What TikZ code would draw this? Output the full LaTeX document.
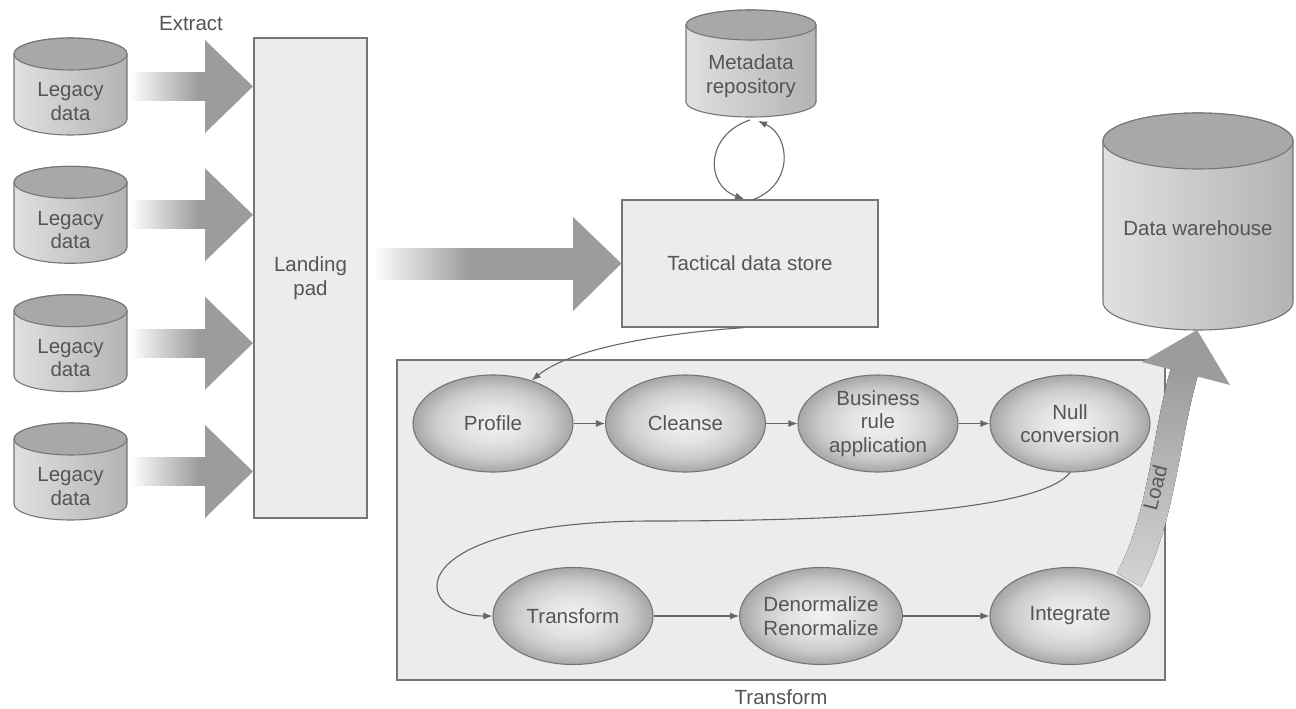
\documentclass[tikz,border=0pt]{standalone}
\usepackage{fontspec}
\setmainfont{Liberation Sans}
\usetikzlibrary{shapes.geometric,arrows.meta}

\definecolor{ink}{HTML}{555555}
\definecolor{edge}{HTML}{767676}
\definecolor{boxfill}{HTML}{ECECEC}
\definecolor{arrowgray}{HTML}{9C9C9C}
\definecolor{arrowlight}{HTML}{D4D4D4}
\definecolor{captop}{HTML}{A8A8A8}
\definecolor{bodyL}{HTML}{E0E0E0}
\definecolor{bodyM}{HTML}{EEEEEE}
\definecolor{bodyR}{HTML}{B3B3B3}
\definecolor{ovalin}{HTML}{F2F2F2}
\definecolor{ovalmid}{HTML}{E2E2E2}
\definecolor{ovalrim}{HTML}{CBCBCB}
\definecolor{ovalout}{HTML}{A6A6A6}
\definecolor{flowline}{HTML}{666666}

% soft oval fill: light core, grey rim (the path's box spans -25bp..25bp)
\pgfdeclareradialshading{ovalshade}{\pgfpoint{0bp}{0bp}}{%
  color(0bp)=(ovalin); color(10bp)=(ovalmid); color(18bp)=(ovalrim);
  color(25bp)=(ovalout); color(50bp)=(ovalout)}
% shaft that fades in from white and turns solid part way along (box spans 25bp..75bp)
\pgfdeclarehorizontalshading{fadebar}{100bp}{%
  color(0bp)=(white); color(25bp)=(white); color(49bp)=(arrowgray); color(100bp)=(arrowgray)}
% shaft that fades in over its whole length
\pgfdeclarehorizontalshading{fadeshort}{100bp}{%
  color(0bp)=(white); color(25bp)=(white); color(70bp)=(arrowgray); color(100bp)=(arrowgray)}

% drum (database) outline: centre x, top y, width, height, cap half-height
\newcommand\drumshape[5]{%
  \path[draw=edge, line width=1.1pt, left color=bodyL, middle color=bodyM, right color=bodyR]
    ({#1-#3/2},{#2+#5}) -- ({#1-#3/2},{#2+#4-#5})
    arc[start angle=180, end angle=360, x radius={#3/2*1pt}, y radius={#5*1pt}]
    -- ({#1+#3/2},{#2+#5})
    arc[start angle=0, end angle=180, x radius={#3/2*1pt}, y radius={#5*1pt}] -- cycle;
  \path[draw=edge, line width=1.1pt, fill=captop]
    (#1,{#2+#5}) ellipse[x radius={#3/2*1pt}, y radius={#5*1pt}];
}

% fat extract arrow into the landing pad, given the y of its tip
\newcommand\extractarrow[1]{%
  \path[shading=fadeshort] (130,{#1-14}) rectangle (206,{#1+14});
  \fill[arrowgray] (205,{#1-46.5}) -- (253,#1) -- (205,{#1+46.5}) -- cycle;
}

\tikzset{
  lbl/.style={text=ink, font=\fontsize{20.5}{23.5}\selectfont, align=center, inner sep=0pt},
  stage/.style={ellipse, draw=edge, line width=1.1pt, shading=ovalshade,
    minimum width=160pt, minimum height=97pt, inner sep=0pt, lbl},
  panel/.style={draw=edge, line width=1.1pt, fill=boxfill, inner sep=0pt, lbl},
  flow/.style={draw=flowline, line width=1.1pt, -{Latex[length=9pt,width=7pt]}},
}

\begin{document}
\begin{tikzpicture}[x=1pt,y=-1pt]
\useasboundingbox (0,0) rectangle (1296,709);
\fill[white] (0,0) rectangle (1296,709);

% legacy sources
\drumshape{70.5}{38}{113}{97}{16}
\drumshape{70.5}{166.3}{113}{97}{16}
\drumshape{70.5}{294.7}{113}{97}{16}
\drumshape{70.5}{423}{113}{97}{16}
\node[lbl] (leg1) at (70.5,101.5) {Legacy\\data};
\node[lbl] (leg2) at (70.5,229.8) {Legacy\\data};
\node[lbl] (leg3) at (70.5,358.2) {Legacy\\data};
\node[lbl] (leg4) at (70.5,486.5) {Legacy\\data};

\node[lbl] (extract) at (191,24) {Extract};
\extractarrow{86.5}
\extractarrow{214.8}
\extractarrow{343.2}
\extractarrow{471.5}

% landing pad
\node[panel, minimum width=113pt, minimum height=480pt] (pad) at (310.5,278) {Landing\\pad};

% tactical data store and its feed
\node[panel, minimum width=256pt, minimum height=127pt] (tds) at (750,263.5) {Tactical data store};
\path[shading=fadebar] (373,248) rectangle (574,279);
\fill[arrowgray] (573,217) -- (tds.west) -- (573,311) -- cycle;

% metadata repository
\drumshape{751}{10}{130}{107}{15}
\node[lbl] (meta) at (751,76) {Metadata\\repository};
\coordinate (metaL) at (750,120);
\coordinate (metaR) at (758,121);
\coordinate (tdsL) at (744,199);
\coordinate (tdsR) at (752,200);
\draw[flow] (metaL) .. controls (705,135) and (705,185) .. (tdsL);
\draw[flow] (tdsR) .. controls (795,185) and (790,135) .. (metaR);

% data warehouse
\drumshape{1198}{113}{190}{217}{28}
\node[lbl] (dw) at (1198,228) {Data warehouse};
\coordinate (dwbase) at (1197,330);

% transform area
\node[panel, minimum width=768pt, minimum height=320pt] (tbox) at (781,520) {};
\node[lbl, anchor=north] (tboxlabel) at ([yshift=-9pt]tbox.south) {Transform};

% load arrow
\fill[top color=arrowgray, bottom color=arrowlight]
  (1116.7,573.4) .. controls (1149,513) and (1151.5,436) .. (1170.5,369.2)
  -- (1197.5,376.8) .. controls (1178.5,444) and (1175,523) .. (1141.3,586.6) -- cycle;
\fill[arrowgray] (1142,362) -- (dwbase) -- (1230,385) -- cycle;
\node[lbl, rotate=76, text=black!65] (load) at (1155,488) {Load};

% transformation steps
\node[stage] (profile)  at (493,423.5)  {Profile};
\node[stage] (cleanse)  at (685.5,423.5) {Cleanse};
\node[stage] (business) at (878,423.5)  {Business\\rule\\application};
\node[stage] (null)     at (1070,423.5) {Null\\conversion};
\node[stage] (xform)    at (573,616)    {Transform};
\node[stage] (denorm)   at (821,616)    {Denormalize\\Renormalize};
\node[stage] (integ)    at (1070,616)   {Integrate};

\draw[flow] ([xshift=-5pt]tds.south) .. controls (680,332) and (575,345) .. (profile.48);
\draw[flow] (profile) -- (cleanse);
\draw[flow] (cleanse) -- (business);
\draw[flow] (business) -- (null);
\draw[flow] (null.south) .. controls (1045,505) and (900,521) .. (653,521)
  .. controls (395,521) and (410,616) .. (xform.west);
\draw[flow] (xform) -- (denorm);
\draw[flow] (denorm) -- (integ);
\end{tikzpicture}
\end{document}
